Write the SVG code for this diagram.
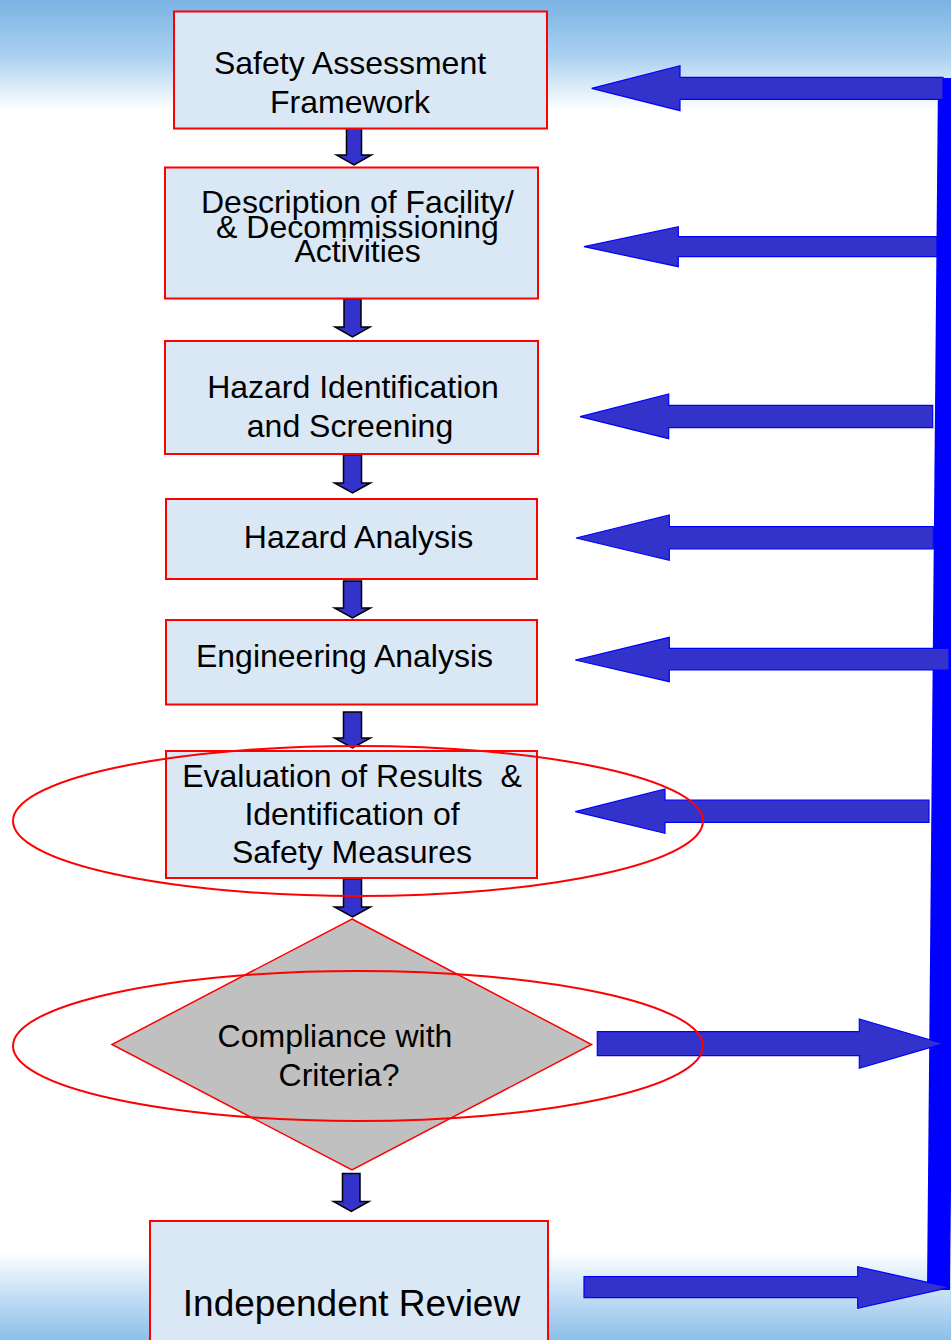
<svg xmlns="http://www.w3.org/2000/svg" width="951" height="1340" viewBox="0 0 951 1340">
<defs>
<linearGradient id="gTop" x1="0" y1="0" x2="0" y2="1">
<stop offset="0" stop-color="#7ab3e3"/>
<stop offset="0.5" stop-color="#a9d0f0"/>
<stop offset="1" stop-color="#ffffff"/>
</linearGradient>
<linearGradient id="gBot" x1="0" y1="0" x2="0" y2="1">
<stop offset="0" stop-color="#ffffff"/>
<stop offset="0.5" stop-color="#c3def5"/>
<stop offset="1" stop-color="#8cbfea"/>
</linearGradient>
<style>
.box{fill:#dae8f6;stroke:#ff0000;stroke-width:2}
.dia{fill:#c0c0c0;stroke:#ff0000;stroke-width:1.5}
.ell{fill:none;stroke:#ff0000;stroke-width:2}
.down{fill:#3333cc;stroke:#000000;stroke-width:1.5;stroke-linejoin:miter}
.big{fill:#3333cc;stroke:#0000ff;stroke-width:1.2}
.t{font-family:"Liberation Sans",Arial,sans-serif;font-size:32px;fill:#000000;text-anchor:middle;white-space:pre}
</style>
</defs>
<rect x="0" y="0" width="951" height="1340" fill="#ffffff"/>
<rect x="0" y="0" width="951" height="110" fill="url(#gTop)"/>
<rect x="0" y="1252" width="951" height="88" fill="url(#gBot)"/>

<g id="connectors">
<polygon points="938,78 962,78 950,1290 927,1290" fill="#0000ff"/>
<path class="big" d="M943,77.3 L680,77.3 L680,65.7 L591.7,88.3 L680,110.7 L680,99.3 L943,99.3 Z"/>
<path class="big" d="M937,236.7 L678.3,236.7 L678.3,226.7 L584,246.7 L678.3,266.7 L678.3,256.7 L937,256.7 Z"/>
<path class="big" d="M932.7,405.3 L668.7,405.3 L668.7,394 L580,416.7 L668.7,438.7 L668.7,427.7 L932.7,427.7 Z"/>
<path class="big" d="M933.3,526.7 L669.3,526.7 L669.3,515 L576,538 L669.3,560.3 L669.3,549 L933.3,549 Z"/>
<path class="big" d="M949,648.3 L669.3,648.3 L669.3,637.3 L575.3,660 L669.3,681.7 L669.3,670 L949,670 Z"/>
<path class="big" d="M929,800 L665,800 L665,789 L575.3,811.7 L665,833.3 L665,822.3 L929,822.3 Z"/>
<path class="big" d="M597.3,1031.7 L859.3,1031.7 L859.3,1019 L943.3,1043.7 L859.3,1068.3 L859.3,1055.7 L597.3,1055.7 Z"/>
<path class="big" d="M584,1276.7 L857.7,1276.7 L857.7,1266.7 L950,1287.3 L857.7,1308.3 L857.7,1297.7 L584,1297.7 Z"/>
<path class="down" d="M346.5,128 L361.5,128 L361.5,155 L371.5,155 L354,165 L336.5,155 L346.5,155 Z"/>
<path class="down" d="M344,299 L361,299 L361,327 L370,327 L352.5,337 L335,327 L344,327 Z"/>
<path class="down" d="M343.5,455 L361.5,455 L361.5,483 L370.5,483 L352.5,493 L334.5,483 L343.5,483 Z"/>
<path class="down" d="M343.5,581 L361.5,581 L361.5,608 L370.5,608 L352.5,618 L334.5,608 L343.5,608 Z"/>
<path class="down" d="M343.5,712 L361.5,712 L361.5,738 L370.5,738 L352.5,748 L334.5,738 L343.5,738 Z"/>
<path class="down" d="M343.5,879 L361.5,879 L361.5,907 L370.5,907 L352.5,917 L334.5,907 L343.5,907 Z"/>
<path class="down" d="M342.5,1173.5 L360,1173.5 L360,1201.5 L369,1201.5 L351.3,1211.5 L333.5,1201.5 L342.5,1201.5 Z"/>
</g>

<g id="n1">
<rect class="box" x="174" y="11.5" width="373" height="117"/>
<text class="t" x="350" y="74">Safety Assessment</text>
<text class="t" x="350" y="113">Framework</text>
</g>
<g id="n2">
<rect class="box" x="165" y="167.5" width="373" height="131"/>
<text class="t" x="357.5" y="213">Description of Facility/</text>
<text class="t" x="357.5" y="238">&amp; Decommissioning</text>
<text class="t" x="357.5" y="262">Activities</text>
</g>
<g id="n3">
<rect class="box" x="165" y="341" width="373" height="113"/>
<text class="t" x="353" y="398">Hazard Identification</text>
<text class="t" x="350" y="437">and Screening</text>
</g>
<g id="n4">
<rect class="box" x="166" y="499" width="371" height="80"/>
<text class="t" x="358.5" y="548">Hazard Analysis</text>
</g>
<g id="n5">
<rect class="box" x="166" y="620" width="371" height="84.5"/>
<text class="t" x="344.5" y="667">Engineering Analysis</text>
</g>
<g id="n6">
<rect class="box" x="166" y="751" width="371" height="127"/>
<text class="t" x="352" y="787">Evaluation of Results  &amp;</text>
<text class="t" x="352" y="825">Identification of</text>
<text class="t" x="352" y="863">Safety Measures</text>
</g>
<g id="n7">
<polygon class="dia" points="352,919 591.5,1044.5 352,1170 112,1044.5"/>
<text class="t" x="335" y="1047">Compliance with</text>
<text class="t" x="339" y="1086">Criteria?</text>
</g>
<g id="n8">
<rect class="box" x="150" y="1221" width="398" height="130"/>
<text class="t" x="351.5" y="1316" style="font-size:37px">Independent Review</text>
</g>
<g id="highlights">
<ellipse class="ell" cx="358" cy="821" rx="345" ry="75"/>
<ellipse class="ell" cx="358" cy="1046" rx="345" ry="75"/>
</g>
</svg>
